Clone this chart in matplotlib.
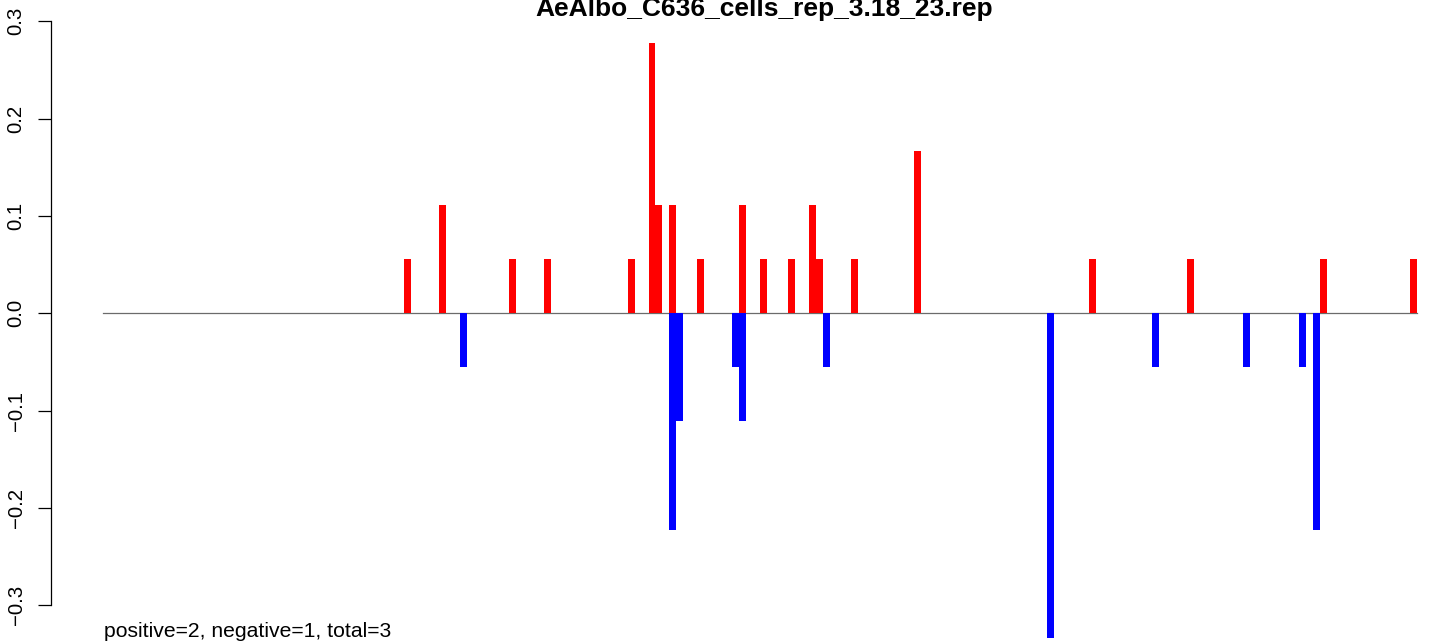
# per-bin strand bias barplot (R style look)

import numpy as np
import matplotlib.pyplot as plt

plt.rcParams["font.family"] = ["Liberation Sans", "DejaVu Sans"]

title = "AeAlbo_C636_cells_rep_3.18_23.rep"
footer = "positive=2, negative=1, total=3"

n_bins = 188

# positive (red) bars: bin index and height
pos_bins = [43, 48, 58, 63, 75, 78, 79, 81, 85, 91, 94, 98, 101, 102, 107, 116, 141, 155, 174, 187]
pos_vals = [0.0556, 0.1111, 0.0556, 0.0556, 0.0556, 0.2778, 0.1111, 0.1111, 0.0556, 0.1111,
            0.0556, 0.0556, 0.1111, 0.0556, 0.0556, 0.1667, 0.0556, 0.0556, 0.0556, 0.0556]

# negative (blue) bars
neg_bins = [51, 81, 82, 90, 91, 103, 135, 150, 163, 171, 173]
neg_vals = [-0.0556, -0.2222, -0.1111, -0.0556, -0.1111, -0.0556, -0.3333, -0.0556, -0.0556, -0.0556, -0.2222]

yticks = [-0.3, -0.2, -0.1, 0.0, 0.1, 0.2, 0.3]

W, H = 1429, 643
fig = plt.figure(figsize=(W / 100, H / 100), dpi=100)

# axes placed in pixel terms, plot region runs past the right/top/bottom edges
x0_px, x1_px = 50.7, 1470
zero_px, px_per_unit = 313.3, 973.3
ylo, yhi = -0.36, 0.36
top_px = zero_px - yhi * px_per_unit
bot_px = zero_px - ylo * px_per_unit
ax = fig.add_axes([x0_px / W, 1 - bot_px / H, (x1_px - x0_px) / W, (bot_px - top_px) / H])

pad = 0.04 * n_bins
ax.set_xlim(-pad, n_bins + pad)
ax.set_ylim(ylo, yhi)

ax.plot([0, n_bins], [0, 0], color="#6b6b6b", lw=0.9, zorder=1)
ax.bar(pos_bins, pos_vals, width=1, align="edge", color="#ff0000", linewidth=0, zorder=2)
ax.bar(neg_bins, neg_vals, width=1, align="edge", color="#0000ff", linewidth=0, zorder=2)

for s in ["top", "right", "bottom"]:
    ax.spines[s].set_visible(False)
ax.spines["left"].set_bounds(-0.3, 0.3)
ax.spines["left"].set_linewidth(0.9)
ax.set_xticks([])
ax.set_yticks(yticks)
ax.set_yticklabels([f"{v:.1f}".replace("-", "\u2212") for v in yticks],
                   rotation=90, va="center", fontsize=14.7)
ax.tick_params(axis="y", length=9.1, width=0.9, pad=9)

fig.text(764 / W, 1 - 15.7 / H, title, ha="center", va="baseline",
         fontsize=19, fontweight="bold")
fig.text(104 / W, 1 - 637.3 / H, footer, ha="left", va="baseline", fontsize=15.2)

fig.savefig("out.png", dpi=100)
